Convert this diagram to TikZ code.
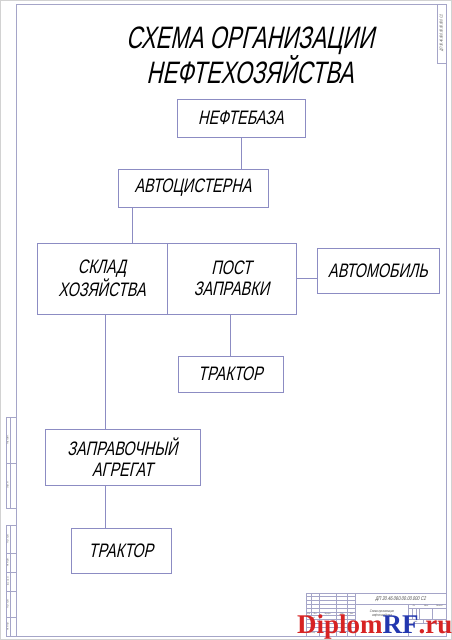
\documentclass[tikz,border=0pt]{standalone}
\usepackage{fontspec}
\setmainfont{Liberation Sans}
\newfontfamily\gost{Liberation Sans}[FakeSlant=0.22,FakeStretch=0.74]
\newfontfamily\gosttitle{Liberation Sans}[FakeSlant=0.22,FakeStretch=0.71]
\newfontfamily\wmfont{Liberation Serif Bold}
\usetikzlibrary{positioning,calc}
\definecolor{boxline}{RGB}{140,140,195}
\definecolor{frameline}{RGB}{165,165,200}
\definecolor{wmred}{RGB}{215,35,35}
\definecolor{wmblue}{RGB}{35,55,175}

\begin{document}
\begin{tikzpicture}[x=1pt,y=-1pt,
  blk/.style={draw=boxline,line width=0.9pt,rectangle,align=center,inner sep=0pt,font=\gost\fontsize{19.5}{21}\selectfont},
  link/.style={draw=boxline,line width=0.9pt},
  frm/.style={draw=frameline,line width=0.6pt},
  tiny/.style={inner sep=0pt,text=black!70,font=\gost\fontsize{1.9}{2.2}\selectfont}]
\useasboundingbox (0,0) rectangle (452,640);
\draw[gray!35] (0.5,0.5) rectangle (451.5,639.5);
\draw[frm] (16,4) rectangle (446,636);

% title
\node[align=center,inner sep=0pt,font=\gosttitle\fontsize{31}{29}\selectfont] (title) at (250,55) {СХЕМА ОРГАНИЗАЦИИ\\НЕФТЕХОЗЯЙСТВА};

% boxes
\node[blk,minimum width=128,minimum height=38](neft) at (241,118) {НЕФТЕБАЗА};
\node[blk,minimum width=150,minimum height=38](avto) at (193,188) {АВТОЦИСТЕРНА};
\node[blk,minimum width=130,minimum height=71](sklad) at (102,278.5) {СКЛАД\\ХОЗЯЙСТВА};
\node[blk,minimum width=129,minimum height=71](post) at (231.5,278.5) {ПОСТ\\ЗАПРАВКИ};
\node[blk,minimum width=122,minimum height=45](auto) at (378,270.5) {АВТОМОБИЛЬ};
\node[blk,minimum width=105,minimum height=36](trak1) at (230.5,374) {ТРАКТОР};
\node[blk,minimum width=155,minimum height=56](zapr) at (122.5,457) {ЗАПРАВОЧНЫЙ\\АГРЕГАТ};
\node[blk,minimum width=100,minimum height=45](trak2) at (121,550.5) {ТРАКТОР};

% links
\coordinate (c1) at (132,0);
\coordinate (c2) at (105,0);
\draw[link] (neft.south) -- (neft.south |- avto.north);
\draw[link] (avto.south -| c1) -- (sklad.north -| c1);
\draw[link] (post.east) -- (post.east -| auto.west);
\draw[link] (post.south -| trak1.north) -- (trak1.north);
\draw[link] (sklad.south -| c2) -- (zapr.north -| c2);
\draw[link] (zapr.south -| c2) -- (trak2.north -| c2);

% stamp top right
\draw[frm] (437,4) rectangle (446,63);
\node[tiny,rotate=90,font=\gost\fontsize{4}{4}\selectfont] (stamp) at (441.5,33.5) {ДП 30.46.060.00.00.000 С2};

% left strip
\draw[frm] (6,417) rectangle (16,508);
\draw[frm] (6,463) -- (16,463);
\draw[frm] (9.8,417) -- (9.8,508);
\draw[frm] (6,525) rectangle (16,636);
\draw[frm] (9.8,525) -- (9.8,636);
\foreach \y in {553,572,591,617} \draw[frm] (6,\y) -- (16,\y);
\node[tiny,rotate=90] at (7.9,440) {Перв. примен.};
\node[tiny,rotate=90] at (7.9,485.5) {Справ. №};
\node[tiny,rotate=90] at (7.9,539) {Подп. и дата};
\node[tiny,rotate=90] at (7.9,562.5) {Инв. № дубл.};
\node[tiny,rotate=90] at (7.9,581.5) {Взам. инв. №};
\node[tiny,rotate=90] at (7.9,604) {Подп. и дата};
\node[tiny,rotate=90] at (7.9,626.5) {Инв. № подл.};

% title block
\draw[frm] (306,593) rectangle (446,636);
\foreach \k in {1,...,10} \draw[frm] (306,{593+\k*3.785}) -- (355.3,{593+\k*3.785});
\draw[frm] (311.3,593) -- (311.3,615.7);
\foreach \x in {318.9,336.3,347.7,355.3} \draw[frm] (\x,593) -- (\x,636);
\draw[frm] (355.3,604.4) -- (446,604.4);
\draw[frm] (408.3,604.4) -- (408.3,636);
\foreach \y in {608.1,619.5,623.3} \draw[frm] (408.3,\y) -- (446,\y);
\foreach \x in {412.1,415.9,419.7,432.6} \draw[frm] (\x,608.1) -- (\x,619.5);
\draw[frm] (423.4,619.5) -- (423.4,623.3);
\node[tiny,font=\gost\fontsize{5.5}{6}\selectfont] (code) at (400.6,598.7) {ДП 30.46.060.00.00.000 С2};
\node[tiny] at (308.6,613.8) {Изм.};
\node[tiny] at (315.1,613.8) {Лист};
\node[tiny] at (327.6,613.8) {№ докум.};
\node[tiny] at (342,613.8) {Подп.};
\node[tiny] at (351.5,613.8) {Дата};
\node[tiny] at (312.5,617.6) {Разраб.};
\node[tiny] at (312.5,621.4) {Пров.};
\node[tiny] at (312.5,625.2) {Т. контр.};
\node[tiny] at (312.5,632.8) {Н. контр.};
\node[tiny,align=center,font=\gost\fontsize{3.6}{4}\selectfont] (name) at (381.8,613.8) {Схема организации\\нефтехозяйства};
\node[tiny] at (414,606.2) {Лит.};
\node[tiny] at (426.1,606.2) {Масса};
\node[tiny] at (439.3,606.2) {Масштаб};
\node[tiny] at (415.8,621.4) {Лист};
\node[tiny] at (434.7,621.4) {Листов};

% watermark
\node[anchor=base west,inner sep=0pt,font=\wmfont\fontsize{27}{27}\selectfont] (wm) at (297,633) {\textcolor{wmred}{Diplom}\textcolor{wmblue}{RF}\textcolor{wmred}{.ru}};
\end{tikzpicture}
\end{document}
